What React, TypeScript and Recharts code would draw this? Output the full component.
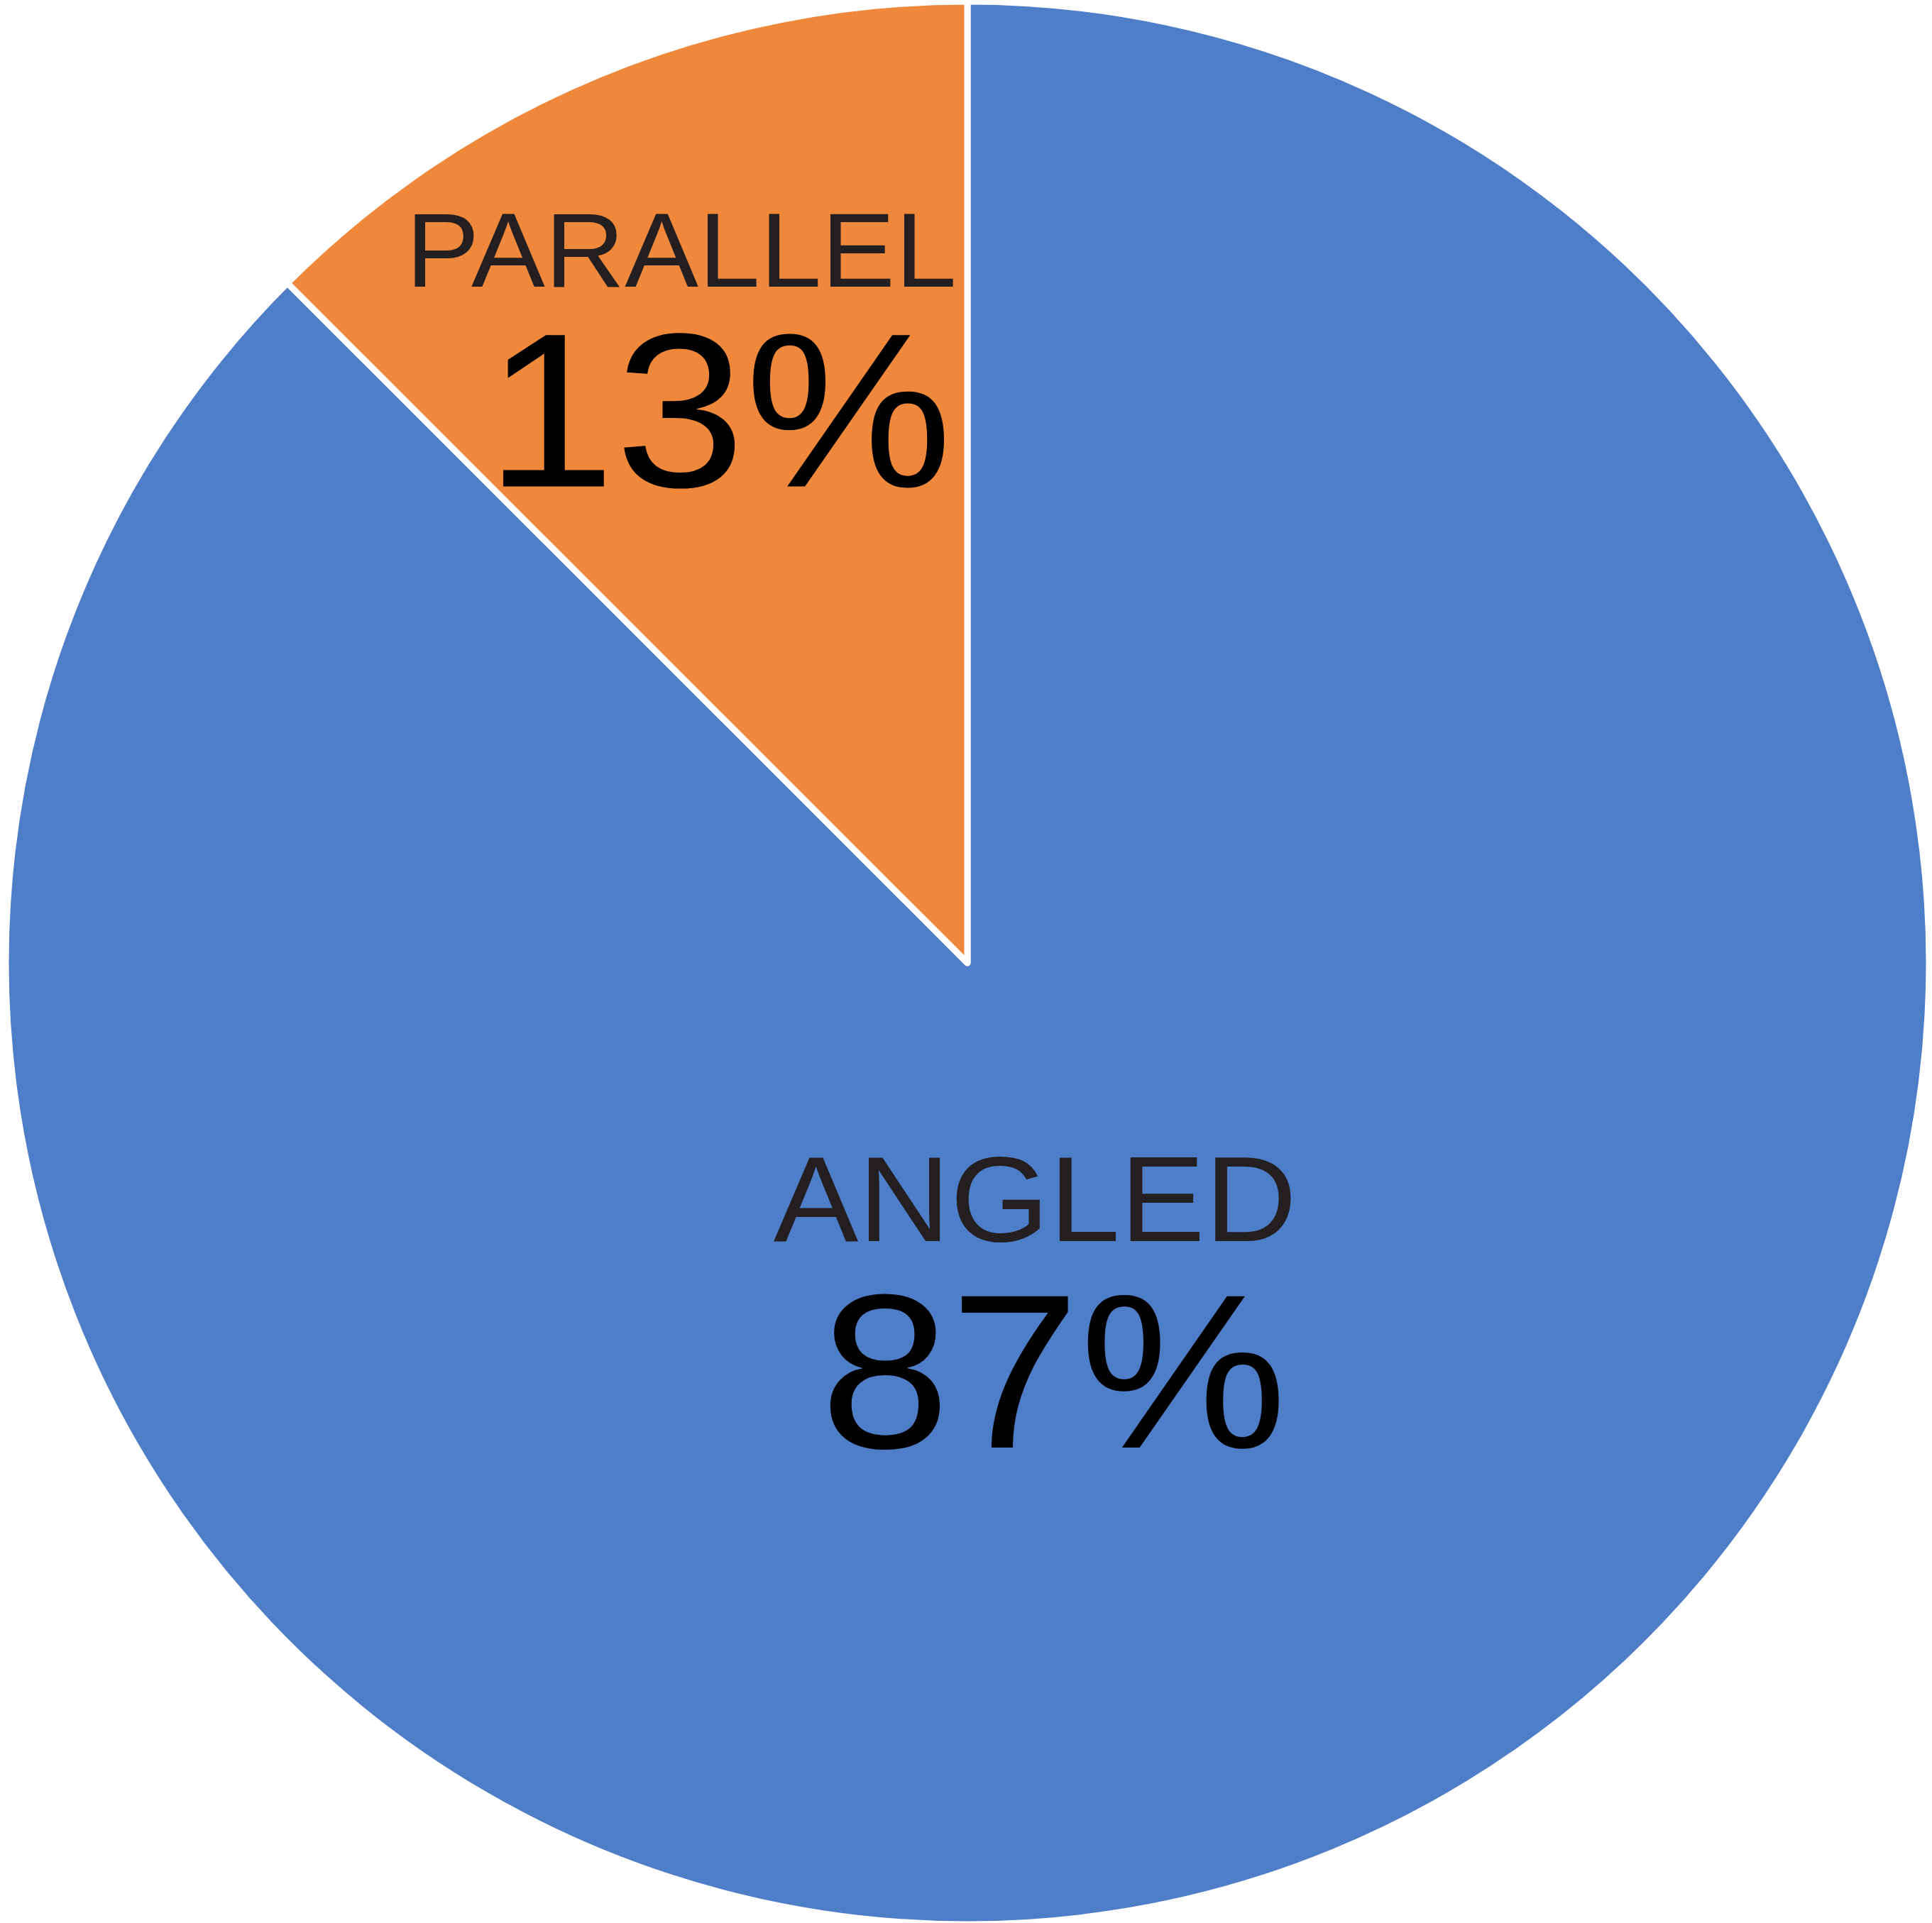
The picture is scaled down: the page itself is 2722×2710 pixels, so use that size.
import { PieChart, Pie, Cell } from 'recharts'

const categories = ['ANGLED', 'PARALLEL']
const shares = [87.5, 12.5]
const shareLabels = ['87%', '13%']
const colors = ['#4F7EC9', '#EF883B']

const data = categories.map((name, i) => ({ name, value: shares[i], pct: shareLabels[i] }))

// label placement as fractions of the radius, measured from the pie centre;
// sx widens the glyphs a little, the original font is an extended grotesk
const labelLayout = [
  {
    name: { dx: 0.0704, dy: 0.2894, size: 170, sx: 1.055 },
    pct: { dx: 0.0896, dy: 0.5041, size: 310, sx: 1.06 },
  },
  {
    name: { dx: -0.2976, dy: -0.7035, size: 149, sx: 1.045 },
    pct: { dx: -0.2584, dy: -0.4955, size: 310, sx: 1.06 },
  },
]

interface LabelProps {
  cx?: number
  cy?: number
  outerRadius?: number
  index?: number
  payload?: { name: string; pct: string }
}

function SliceLabel({ cx = 0, cy = 0, outerRadius = 0, index = 0, payload }: LabelProps) {
  const lay = labelLayout[index]
  const r = outerRadius
  if (!payload) return null
  const nx = cx + lay.name.dx * r
  const ny = cy + lay.name.dy * r
  const px = cx + lay.pct.dx * r
  const py = cy + lay.pct.dy * r
  return (
    <g>
      <text
        x={0}
        y={0}
        transform={`translate(${nx},${ny}) scale(${lay.name.sx},1)`}
        textAnchor="middle"
        fontFamily="Liberation Sans, Arial, sans-serif"
        fontSize={lay.name.size}
        fill="#231F20"
      >
        {payload.name}
      </text>
      <text
        x={0}
        y={0}
        transform={`translate(${px},${py}) scale(${lay.pct.sx},1)`}
        textAnchor="middle"
        fontFamily="Liberation Sans, Arial, sans-serif"
        fontSize={lay.pct.size}
        fill="#000000"
      >
        {payload.pct}
      </text>
    </g>
  )
}

export default function App() {
  return (
    <div style={{ width: 2722, height: 2710, background: '#fff' }}>
      <style>{'body{margin:0}'}</style>
      <PieChart width={2722} height={2710} margin={{ top: 0, right: 0, bottom: 0, left: 0 }}>
        <Pie
          data={data}
          dataKey="value"
          nameKey="name"
          cx={1363}
          cy={1357}
          outerRadius={1355}
          startAngle={90}
          endAngle={-270}
          stroke="#ffffff"
          strokeWidth={9}
          strokeLinejoin="round"
          labelLine={false}
          label={(props: any) => <SliceLabel {...props} />}
          isAnimationActive={false}
        >
          {data.map((d, i) => (
            <Cell key={d.name} fill={colors[i]} />
          ))}
        </Pie>
      </PieChart>
    </div>
  )
}
